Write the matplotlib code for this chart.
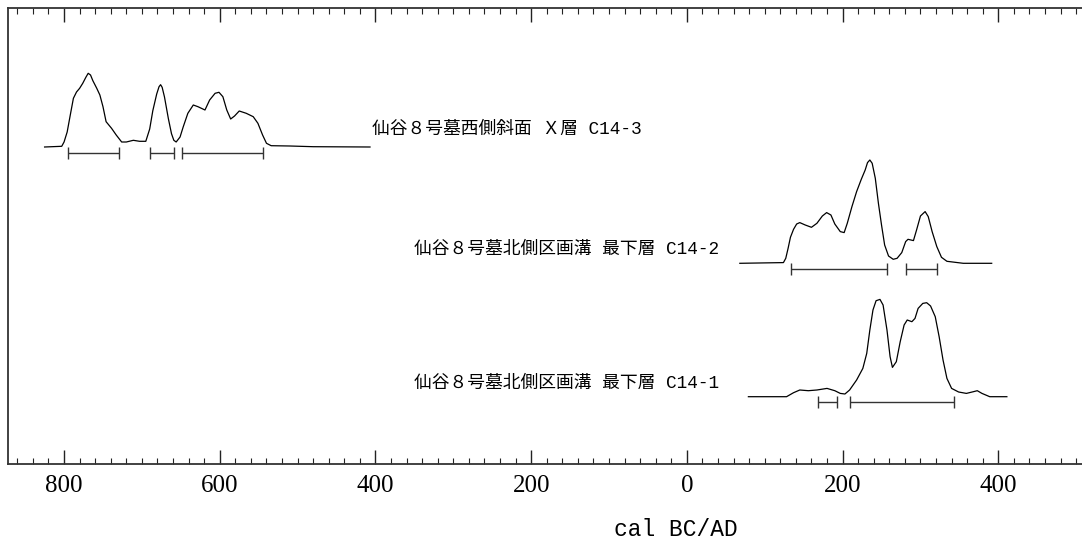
import matplotlib
matplotlib.use("Agg")
import matplotlib.pyplot as plt
from matplotlib.ticker import MultipleLocator, FuncFormatter

# calibrated age axis: negative = cal BC, positive = cal AD
# 仙谷8号墓西側斜面 X層 C14-3
c14_3_years = [-825, -803, -800, -796, -792, -788, -784, -780, -776, -772,
               -769, -766, -763, -758, -754, -750, -746, -739, -733, -726,
               -720, -711, -703, -695, -690, -686, -681, -678, -676, -674,
               -671, -666, -662, -659, -656, -651, -647, -641, -634, -628,
               -619, -613, -606, -601, -596, -591, -586, -581, -575, -566,
               -557, -551, -545, -540, -534, -510, -480, -407]
c14_3_prob = [0, 0.7, 5, 15, 32, 48.7, 55, 58.7, 63.7, 69.7,
              73.7, 72, 66.3, 58.7, 52, 40.3, 25.3, 18.7, 12, 5,
              5, 6.7, 5.7, 5.7, 18, 36.3, 53, 60.3, 62.3, 59.7,
              50, 28.3, 13.3, 6.7, 5, 10, 20, 33.7, 42, 40.3,
              37, 47, 53.7, 54.7, 50.3, 37, 28, 31, 36, 33.7,
              30.3, 23.7, 12, 3.7, 1.3, 1, 0.3, 0]
c14_3_ranges = [(-795, -730), (-690, -659), (-649, -544)]

# 仙谷8号墓北側区画溝 最下層 C14-2
c14_2_years = [68, 124, 127, 130, 133, 137, 141, 145, 152, 160,
               167, 174, 179.5, 185, 190, 197, 202, 206, 212, 218,
               224, 229, 232, 235, 238, 242, 246, 250, 254, 259,
               265, 270, 276, 281, 284, 291, 295, 300, 306, 310,
               315, 321, 327, 334, 355, 391.5]
c14_2_prob = [0, 0.7, 5, 15, 26, 34, 39.3, 40.7, 38.3, 36,
              40, 47.3, 50.7, 48.3, 39.3, 31.7, 30.7, 40, 56.7, 71.7,
              84, 93.3, 100.7, 103.3, 100, 85, 60, 38.3, 18.3, 7.3,
              4, 5, 10.7, 21.7, 24, 22.7, 33.3, 47.3, 51.7, 46.7,
              31.7, 16.7, 6, 2, 0, 0]
c14_2_ranges = [(134, 257), (282, 321)]

# 仙谷8号墓北側区画溝 最下層 C14-1
c14_1_years = [79, 128, 137, 145, 156, 167, 180, 190, 197, 203,
               209, 218, 226, 231, 235, 239, 243, 248, 252, 257,
               261, 264, 269, 274, 279, 283, 289, 293, 297, 303,
               308, 313, 319, 324, 329, 334, 340, 349, 359, 368,
               373, 379, 389, 411]
c14_1_prob = [0, 0, 4, 6.7, 6, 6.7, 8.3, 6, 3.3, 2.7,
              6.7, 16.7, 28.3, 43.3, 66.7, 86.7, 96, 97.3, 91.7, 66.7,
              40, 29.3, 35, 55, 71.7, 76.7, 75, 78.3, 88.3, 93.3,
              94, 90.7, 80, 60, 36.7, 18.3, 8.3, 4.7, 3.3, 5,
              6, 3.3, 0, 0]
c14_1_ranges = [(169, 193), (210, 343)]

labels = ["仙谷８号墓西側斜面 Ｘ層 C14-3",
          "仙谷８号墓北側区画溝 最下層 C14-2",
          "仙谷８号墓北側区画溝 最下層 C14-1"]

label_font = ["Liberation Mono", "Noto Sans CJK JP", "DejaVu Sans"]

fig = plt.figure(figsize=(10.82, 5.41), dpi=100)
ax = fig.add_axes([8 / 1082, 1 - 464 / 541, 1 - 8 / 1082, 456 / 541])

# (years, prob, ranges, baseline, label x, label y, alignment)
samples = [
    (c14_3_years, c14_3_prob, c14_3_ranges, 317, -404, 335, "left"),
    (c14_2_years, c14_2_prob, c14_2_ranges, 200.7, 42, 215, "right"),
    (c14_1_years, c14_1_prob, c14_1_ranges, 67.3, 42, 80.5, "right"),
]

for (yrs, prob, ranges, base, lx, ly, ha), text in zip(samples, labels):
    ax.plot(yrs, [base + p for p in prob], color="black", lw=0.9,
            solid_joinstyle="round")
    bar_y = base - 5.5
    for lo, hi in ranges:
        ax.hlines(bar_y, lo, hi, color="#333333", lw=1.0)
        ax.vlines([lo, hi], bar_y - 6, bar_y + 6, color="#333333", lw=1.0)
    ax.text(lx, ly, text, ha=ha, va="center", fontsize=12.8, family=label_font)

ax.set_xlim(-872, 507.5)
ax.set_ylim(0, 456)
ax.set_yticks([])

ax.xaxis.set_major_locator(MultipleLocator(200))
ax.xaxis.set_minor_locator(MultipleLocator(20))
ax.xaxis.set_major_formatter(FuncFormatter(lambda v, pos: f"{abs(int(round(v)))}"))
ax.tick_params(axis="x", which="both", direction="in", top=True, bottom=True,
               labeltop=False, color="#222222")
ax.tick_params(axis="x", which="major", length=10, width=1.0, pad=8,
               labelsize=18)
ax.tick_params(axis="x", which="minor", length=4.5, width=0.8)
for lab in ax.get_xticklabels():
    lab.set_family("Liberation Serif")

for side in ["left", "top", "bottom"]:
    ax.spines[side].set_linewidth(1.3)
    ax.spines[side].set_color("#333333")
ax.spines["right"].set_visible(False)

fig.text(676 / 1082, 1 - 529 / 541, "cal BC/AD", ha="center", va="center",
         fontsize=16.5, family="Liberation Mono")

fig.savefig("out.png", dpi=100)
